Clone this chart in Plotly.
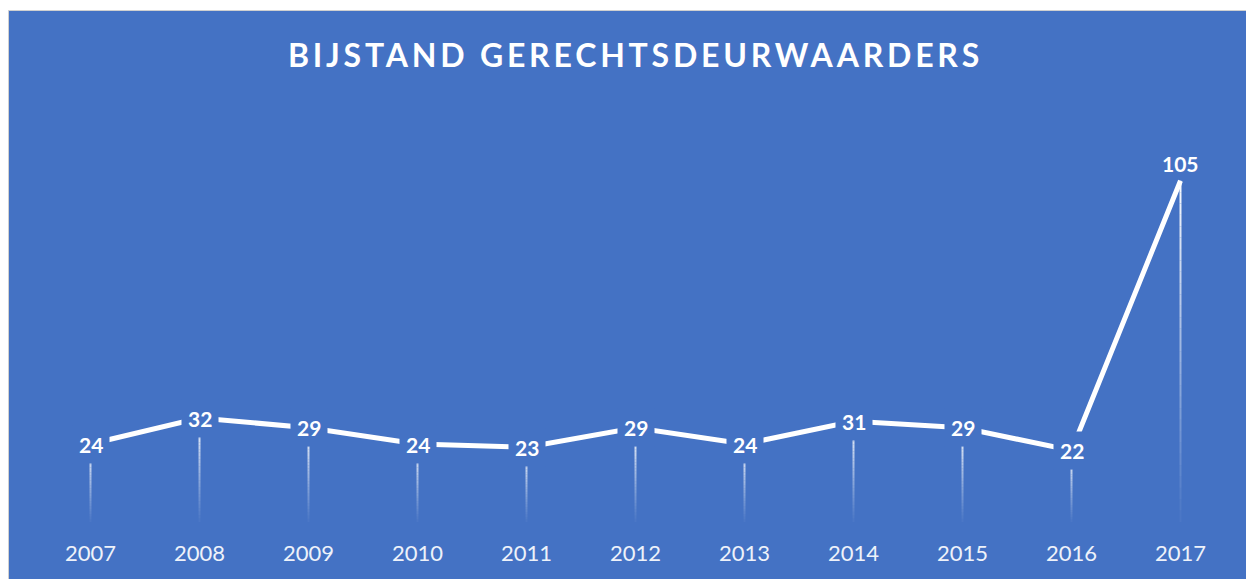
import plotly.graph_objects as go

years = [2007, 2008, 2009, 2010, 2011, 2012, 2013, 2014, 2015, 2016, 2017]
values = [24, 32, 29, 24, 23, 29, 24, 31, 29, 22, 105]
title_text = "BIJSTAND GERECHTSDEURWAARDERS"

BLUE = "#4472C4"
FONT = "Lato"
W, H = 1254, 579
ML, MR, MT, MB = 28, 27, 124, 65
PW, PH = W - ML - MR, H - MT - MB

fig = go.Figure()

# main line
fig.add_trace(go.Scatter(x=years, y=values, mode="lines",
                         line=dict(color="white", width=5),
                         hoverinfo="skip", showlegend=False))

shapes = []
# background card with grey border (paper coords)
shapes.append(dict(type="rect", xref="paper", yref="paper",
                   x0=(0.5 - ML) / PW, x1=(W + 10 - ML) / PW,
                   y0=(H - MB - (H + 10)) / PH, y1=(H - MB - 2.5) / PH,
                   fillcolor=BLUE, line=dict(color="#d0d0d0", width=1),
                   layer="below"))

# fading drop lines
NSEG = 30
for x, v in zip(years, values):
    for i in range(NSEG):
        t0 = i / NSEG
        t1 = (i + 1) / NSEG
        alpha = 0.95 * (1 - (i + 0.5) / NSEG) ** 1.1 + 0.03
        shapes.append(dict(type="line", xref="x", yref="y",
                           x0=x, x1=x, y0=v * (1 - t0), y1=v * (1 - t1),
                           line=dict(color=f"rgba(255,255,255,{alpha:.3f})", width=2),
                           layer="below"))

annotations = []
for i, (x, v) in enumerate(zip(years, values)):
    last = i == len(years) - 1
    annotations.append(dict(x=x, y=v, xref="x", yref="y", text=f"<b>{v}</b>",
                            showarrow=False, font=dict(family=FONT, size=21, color="white"),
                            bgcolor=BLUE if not last else "rgba(0,0,0,0)",
                            borderpad=6, yanchor="middle",
                            yshift=17 if last else 0))

fig.update_layout(
    width=W, height=H,
    margin=dict(l=ML, r=MR, t=MT, b=MB),
    paper_bgcolor="white",
    plot_bgcolor="rgba(0,0,0,0)",
    shapes=shapes,
    annotations=annotations,
    title=dict(text="<b>" + title_text + "</b>", x=0.5, xref="paper",
               y=1 - 48 / H, yref="container", yanchor="middle", xanchor="center",
               font=dict(family=FONT, size=32, color="white")),
    xaxis=dict(range=[2006.5, 2017.5], tickmode="array", tickvals=years,
               ticktext=[str(y) for y in years], showgrid=False, zeroline=False,
               showline=False, ticks="", ticklabelstandoff=16,
               tickfont=dict(family=FONT, size=22, color="#eef2fa")),
    yaxis=dict(range=[0, 120], visible=False, showgrid=False, zeroline=False),
    showlegend=False,
)

post = """
var t = document.querySelectorAll('.gtitle');
t.forEach(function(e){ e.style.letterSpacing = '3.8px'; });
"""
fig.write_html("out.html", post_script=post)
